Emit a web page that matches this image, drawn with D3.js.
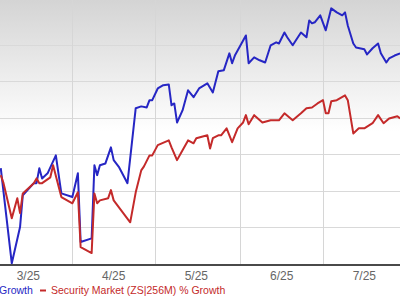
<!DOCTYPE html>
<html>
<head>
<meta charset="utf-8">
<script src="https://cdn.jsdelivr.net/npm/d3@7"></script>
<style>
  body { margin: 0; background: #fff; }
  svg { display: block; font-family: Arial, "Liberation Sans", sans-serif; }
</style>
</head>
<body>
<svg width="400" height="300"></svg>
<script>
// stock line (blue) - dates m/d/yy and % growth
var blueDates = ["3/6/25","3/10/25","3/13/25","3/14/25","3/18/25","3/19/25","3/20/25","3/21/25","3/23/25","3/26/25",
  "3/28/25","4/1/25","4/3/25","4/4/25","4/8/25","4/9/25","4/10/25","4/11/25","4/13/25","4/15/25",
  "4/16/25","4/18/25","4/21/25","4/24/25","4/26/25","4/28/25","4/29/25","4/30/25","5/2/25","5/4/25",
  "5/6/25","5/7/25","5/8/25","5/9/25","5/11/25","5/13/25","5/15/25","5/17/25","5/20/25","5/22/25",
  "5/24/25","5/26/25","5/28/25","5/29/25","5/30/25","5/31/25","6/3/25","6/4/25","6/6/25","6/8/25",
  "6/10/25","6/12/25","6/14/25","6/15/25","6/17/25","6/18/25","6/20/25","6/23/25","6/25/25","6/26/25",
  "6/27/25","6/28/25","6/30/25","7/2/25","7/4/25","7/6/25","7/8/25","7/9/25","7/10/25","7/12/25",
  "7/13/25","7/16/25","7/17/25","7/19/25","7/21/25","7/22/25","7/24/25","7/25/25","7/27/25","7/29/25"];
var blueVals = [-3.8,-29.8,-19.9,-11.2,-7.9,-7.9,-3.8,-6.6,-5.2,-0.3,
  -10.7,-11.7,-5.2,-24.0,-23.0,-3.0,-5.7,-3.0,-2.5,1.9,
  -1.6,-3.6,-7.9,12.6,13.1,12.8,14.8,14.8,18.0,18.9,
  19.1,13.4,13.9,8.7,12.0,17.5,15.6,18.0,19.4,16.9,
  22.7,23.0,27.6,24.9,27.0,28.4,32.5,24.9,26.5,25.7,
  25.1,29.8,30.6,30.3,33.3,32.0,29.8,33.3,32.0,36.6,
  35.8,36.1,38.0,33.9,39.9,38.8,38.0,38.8,35.2,30.3,
  29.2,28.7,27.3,29.0,30.3,27.6,25.1,26.2,27.0,27.6];

// Security Market industry line (red)
var redDates = ["3/6/25","3/7/25","3/10/25","3/12/25","3/13/25","3/14/25","3/18/25","3/19/25","3/20/25","3/21/25",
  "3/24/25","3/25/25","3/28/25","4/1/25","4/3/25","4/4/25","4/8/25","4/9/25","4/10/25","4/11/25",
  "4/14/25","4/15/25","4/16/25","4/22/25","4/24/25","4/26/25","4/27/25","4/29/25","4/30/25","5/2/25",
  "5/6/25","5/7/25","5/9/25","5/11/25","5/13/25","5/15/25","5/16/25","5/20/25","5/21/25","5/22/25",
  "5/24/25","5/25/25","5/27/25","5/29/25","5/31/25","6/2/25","6/3/25","6/4/25","6/6/25","6/9/25",
  "6/12/25","6/15/25","6/17/25","6/20/25","6/23/25","6/25/25","6/27/25","6/29/25","7/1/25","7/2/25",
  "7/3/25","7/4/25","7/6/25","7/9/25","7/10/25","7/12/25","7/14/25","7/16/25","7/19/25","7/21/25",
  "7/23/25","7/25/25","7/28/25","7/29/25"];
var redVals = [-5.7,-7.9,-17.5,-12.0,-16.1,-10.7,-7.9,-6.6,-7.9,-7.9,
  -6.3,-3.0,-11.7,-13.4,-10.4,-25.4,-27.0,-10.7,-13.4,-12.6,
  -12.0,-9.8,-12.6,-18.6,-10.4,-4.4,-3.3,-0.3,-0.3,2.5,
  3.8,1.9,-1.6,1.1,3.8,3.0,4.4,5.2,1.6,4.4,
  5.2,5.2,7.1,3.3,7.1,8.7,10.7,8.2,10.7,8.7,
  9.3,9.3,11.2,9.3,11.2,12.6,12.8,13.9,14.8,11.2,
  11.2,14.5,14.8,16.1,14.8,5.7,7.1,7.1,8.5,10.7,
  8.5,9.8,10.4,9.8];

var monthTicks = ["3/25","4/25","5/25","6/25","7/25"];
var yGrid = [-20,-10,0,10,20,30];
var legendBlue = "Growth";
var legendRed = "Security Market (ZS|256M) % Growth";

var svg = d3.select("svg");
var W = 400, axisY = 264;
var parse = d3.timeParse("%m/%d/%y");
var parseM = d3.timeParse("%m/%y");

var x = d3.scaleTime()
  .domain([new Date(2025,2,1), new Date(2025,6,1)])
  .range([-13, 323]);
var y = d3.scaleLinear().domain([-30, 40]).range([axisY, 8]);

// grey-to-white background
var defs = svg.append("defs");
var grad = defs.append("linearGradient").attr("id","bg").attr("x1",0).attr("y1",0).attr("x2",0).attr("y2",1);
grad.append("stop").attr("offset","0%").attr("stop-color","#d4d4d4");
grad.append("stop").attr("offset","50%").attr("stop-color","#ffffff");
grad.append("stop").attr("offset","100%").attr("stop-color","#ffffff");
svg.append("rect").attr("x",0).attr("y",0).attr("width",W).attr("height",axisY).attr("fill","url(#bg)");
defs.append("clipPath").attr("id","plot").append("rect").attr("x",0).attr("y",0).attr("width",W).attr("height",axisY);

// horizontal grid
svg.append("g").selectAll("line").data(yGrid).enter().append("line")
  .attr("x1",0).attr("x2",W)
  .attr("y1",d => Math.round(y(d))+0.5).attr("y2",d => Math.round(y(d))+0.5)
  .attr("stroke","#d9d9d9").attr("stroke-width",1);

// vertical grid at month starts
var months = d3.timeMonth.range(new Date(2025,1,1), new Date(2025,7,1));
svg.append("g").selectAll("line").data(months).enter().append("line")
  .attr("x1",d => Math.round(x(d))+0.5).attr("x2",d => Math.round(x(d))+0.5)
  .attr("y1",0).attr("y2",axisY)
  .attr("stroke","#d6d6d6").attr("stroke-width",1);

var line = d3.line().x(d => x(d[0])).y(d => y(d[1]));
var plot = svg.append("g").attr("clip-path","url(#plot)");
plot.append("path")
  .datum(blueDates.map((d,i) => [parse(d), blueVals[i]]))
  .attr("d", line).attr("fill","none")
  .attr("stroke","#2626c4").attr("stroke-width",2).attr("stroke-linejoin","round");
plot.append("path")
  .datum(redDates.map((d,i) => [parse(d), redVals[i]]))
  .attr("d", line).attr("fill","none")
  .attr("stroke","#c42a2a").attr("stroke-width",2).attr("stroke-linejoin","round");

// bottom axis
svg.append("line").attr("x1",0).attr("x2",W).attr("y1",axisY+1).attr("y2",axisY+1)
  .attr("stroke","#4a4a4a").attr("stroke-width",2);

// month labels, centred mid-month
svg.append("g").selectAll("text").data(monthTicks).enter().append("text")
  .attr("x", d => x(d3.timeDay.offset(parseM(d.replace("/","/")), 15)))
  .attr("y", 280)
  .attr("text-anchor","middle")
  .attr("font-size","12px")
  .attr("fill","#666")
  .text(d => d);

// legend
svg.append("text").attr("x",-1).attr("y",294).attr("font-size","10.5px").attr("fill","#2626c4").text(legendBlue);
svg.append("line").attr("x1",40).attr("x2",46).attr("y1",290.5).attr("y2",290.5).attr("stroke","#c42a2a").attr("stroke-width",2);
svg.append("text").attr("x",51).attr("y",294).attr("font-size","10.5px").attr("fill","#c42a2a").text(legendRed);
</script>
</body>
</html>
